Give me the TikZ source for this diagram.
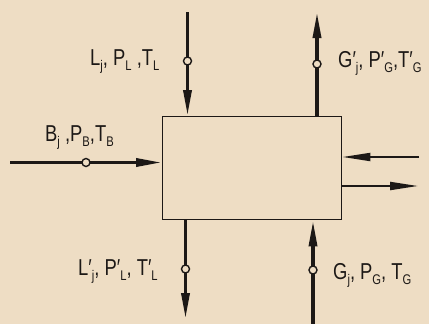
\documentclass[tikz,border=0pt]{standalone}
\usepackage{fontspec}
\setmainfont{Liberation Sans}[FakeStretch=0.8]
\usetikzlibrary{arrows.meta}
\definecolor{bg}{RGB}{238,221,196}
\definecolor{ink}{RGB}{28,24,22}
\newcommand\subfont{\fontsize{14}{14}\selectfont}
\newcommand\sv[3]{#1#3\raisebox{-5pt}{\subfont #2}}
\begin{document}
\begin{tikzpicture}[x=1pt,y=-1pt,
  thickline/.style={draw=ink,line width=3.4pt},
  medline/.style={draw=ink,line width=2pt},
  tipbig/.style={-{Triangle[length=26pt,width=8pt]}},
  tipmed/.style={-{Triangle[length=28pt,width=8pt]}},
  ring/.style={circle,draw=ink,fill=bg,line width=1.4pt,minimum size=8pt,inner sep=0pt},
  lbl/.style={inner sep=0pt,font=\fontsize{23}{23}\selectfont,text=ink}]
\fill[bg] (0,0) rectangle (429,324);
\useasboundingbox (0,0) rectangle (429,324);
\node[draw=ink,line width=1.4pt,minimum width=179pt,minimum height=103pt,inner sep=0pt,anchor=north west] (box) at (162,116) {};
% free ends
\coordinate (lt) at (187.5,12);
\coordinate (rt) at (317,12);
\coordinate (lb) at (185.5,319);
\coordinate (rb) at (313,324);
\coordinate (lin) at (10,162.5);
\coordinate (rin) at (419,157);
\coordinate (rout) at (418,186);
% connectors
\draw[thickline,tipbig] (lt) -- (box.north -| lt);
\draw[thickline,tipbig] (box.north -| rt) -- (rt);
\draw[thickline,tipbig] (box.south -| lb) -- (lb);
\draw[thickline,tipbig] (rb) -- (box.south -| rb);
\draw[thickline,tipbig] (lin) -- (box.west |- lin);
\draw[medline,tipmed] (rin) -- (box.east |- rin);
\draw[medline,tipmed] (box.east |- rout) -- (rout);
% rings
\node[ring] (c1) at (187.5,61) {};
\node[ring] (c2) at (317,64) {};
\node[ring] (c3) at (185.5,269) {};
\node[ring] (c4) at (313,270) {};
\node[ring] (c5) at (86,162.5) {};
% labels
\node[lbl,anchor=base west] (t1) at (90,65) {\sv{L}{j}{}, \sv{P}{L}{} ,\sv{T}{L}{}};
\node[lbl,anchor=base west] (t2) at (45,141) {\sv{B}{j}{} ,\sv{P}{B}{},\sv{T}{B}{}};
\node[lbl,anchor=base west] (t3) at (338,67) {\sv{G}{j}{′}, \sv{P}{G}{′},\sv{T}{G}{′}};
\node[lbl,anchor=base west] (t4) at (78,275) {\sv{L}{j}{′}, \sv{P}{L}{′}, \sv{T}{L}{′}};
\node[lbl,anchor=base west] (t5) at (333,279) {\sv{G}{j}{}, \sv{P}{G}{}, \sv{T}{G}{}};
\end{tikzpicture}
\end{document}
